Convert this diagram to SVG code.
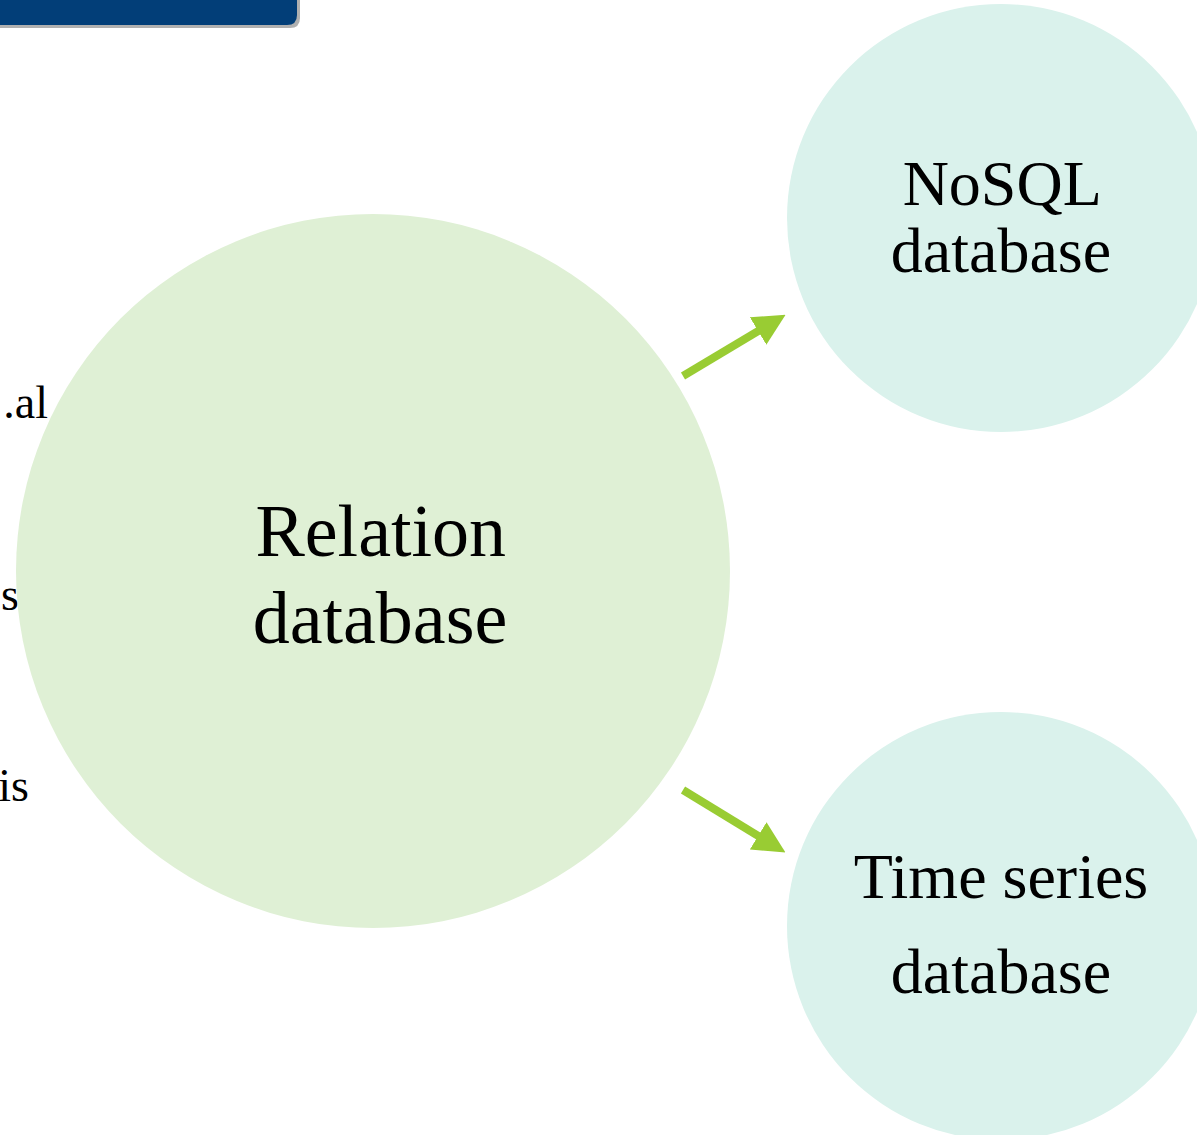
<svg xmlns="http://www.w3.org/2000/svg" width="1197" height="1135" viewBox="0 0 1197 1135">
  <style>
    .label { font-family: "Liberation Serif", "Times New Roman", serif; fill: #000; }
    .conn { stroke: #99cc33; stroke-width: 8; fill: none; marker-end: url(#head); }
  </style>
  <defs>
    <marker id="head" markerWidth="4" markerHeight="4" refX="1" refY="2" orient="auto" markerUnits="strokeWidth" viewBox="0 0 4 4">
      <path d="M0,0 L4,2 L0,4 Z" fill="#99cc33"/>
    </marker>
  </defs>
  <rect width="1197" height="1135" fill="#fff"/>

  <!-- title bar fragment -->
  <g id="title-bar">
    <path d="M-10,-10 H300 V18 Q300,28 290,28 H-10 Z" fill="#b0b0b0"/>
    <path d="M-10,-10 H297 V15 Q297,25 287,25 H-10 Z" fill="#023e78"/>
  </g>

  <!-- partially visible side text -->
  <g id="side-text" class="label" font-size="46">
    <text x="48" y="418" text-anchor="end" class="label">.al</text>
    <text x="19" y="610" text-anchor="end" class="label">s</text>
    <text x="29" y="801" text-anchor="end" class="label">is</text>
  </g>

  <g id="relation-db">
    <circle cx="373" cy="571" r="357" fill="#dff0d5"/>
    <text class="label" font-size="74" text-anchor="middle">
      <tspan x="390" y="556">Relation</tspan>
      <tspan x="380" y="643">database</tspan>
    </text>
  </g>

  <g id="nosql-db">
    <circle cx="1001" cy="218" r="214" fill="#daf2ec"/>
    <text class="label" font-size="64" text-anchor="middle">
      <tspan x="1009" y="205">NoSQL</tspan>
      <tspan x="1001" y="272">database</tspan>
    </text>
  </g>

  <g id="timeseries-db">
    <circle cx="1001" cy="926" r="214" fill="#daf2ec"/>
    <text class="label" font-size="64" text-anchor="middle">
      <tspan x="1009" y="898">Time series</tspan>
      <tspan x="1001" y="993">database</tspan>
    </text>
  </g>

  <g id="connectors">
    <line class="conn" x1="683" y1="376" x2="765" y2="327"/>
    <line class="conn" x1="683" y1="790" x2="765" y2="840"/>
  </g>
</svg>
